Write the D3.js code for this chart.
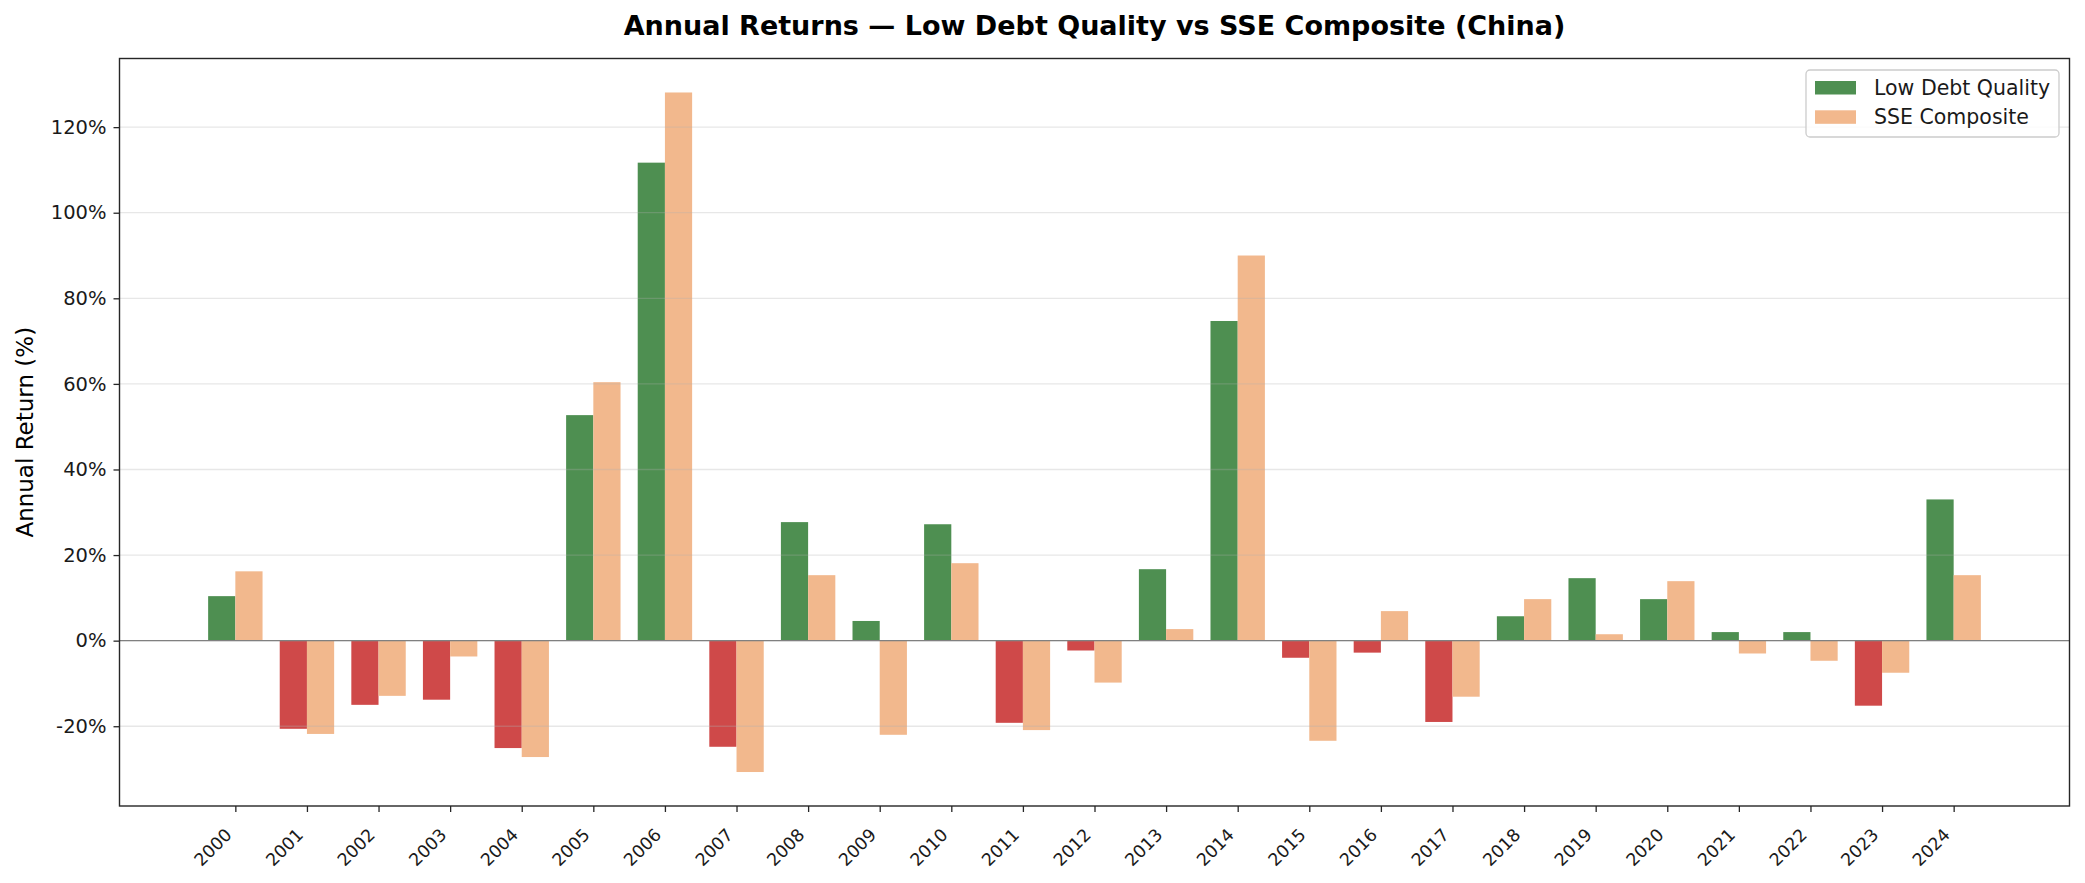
<!DOCTYPE html>
<html>
<head>
<meta charset="utf-8">
<script src="https://cdn.jsdelivr.net/npm/d3@7/dist/d3.min.js"></script>
<style>
  html, body { margin: 0; padding: 0; background: #ffffff; }
  svg { display: block; font-family: "DejaVu Sans", sans-serif; }
</style>
</head>
<body>
<svg id="chart" width="2085" height="883"></svg>
<script>
const years = [2000,2001,2002,2003,2004,2005,2006,2007,2008,2009,2010,2011,2012,2013,2014,2015,2016,2017,2018,2019,2020,2021,2022,2023,2024];
const lowDebtQuality = [10.4,-20.6,-15.0,-13.8,-25.1,52.7,111.7,-24.8,27.7,4.6,27.2,-19.2,-2.3,16.7,74.7,-4.0,-2.8,-19.0,5.7,14.6,9.7,2.0,2.0,-15.2,33.0];
const sseComposite = [16.2,-21.8,-12.9,-3.7,-27.2,60.4,128.1,-30.7,15.3,-22.0,18.1,-20.9,-9.8,2.7,90.0,-23.4,6.9,-13.1,9.7,1.5,13.9,-3.0,-4.7,-7.5,15.3];
const yTicks = [-20,0,20,40,60,80,100,120];
const seriesNames = ["Low Debt Quality", "SSE Composite"];

const colorPos = "#4e8f51", colorNeg = "#cf4949", colorSSE = "#f2b88d";

const mLeft = 119.5, mRight = 2069.5, mTop = 58.5, mBottom = 806;
const barW = 0.38;

const svg = d3.select("#chart");

const n = years.length;
const xPad = (n - 1 + 2 * barW) * 0.05;
const x = d3.scaleLinear().domain([-barW - xPad, n - 1 + barW + xPad]).range([mLeft, mRight]);
const allVals = lowDebtQuality.concat(sseComposite);
const yMin = d3.min(allVals), yMax = d3.max(allVals);
const yPad = (yMax - yMin) * 0.05;
const y = d3.scaleLinear().domain([yMin - yPad, yMax + yPad]).range([mBottom, mTop]);

// bars
const g = svg.append("g");
g.selectAll("rect.ldq").data(lowDebtQuality).join("rect")
  .attr("class","ldq")
  .attr("x", (d,i) => x(i - barW))
  .attr("width", x(barW) - x(0))
  .attr("y", d => y(Math.max(0,d)))
  .attr("height", d => Math.abs(y(d) - y(0)))
  .attr("fill", d => d >= 0 ? colorPos : colorNeg);
g.selectAll("rect.sse").data(sseComposite).join("rect")
  .attr("class","sse")
  .attr("x", (d,i) => x(i))
  .attr("width", x(barW) - x(0))
  .attr("y", d => y(Math.max(0,d)))
  .attr("height", d => Math.abs(y(d) - y(0)))
  .attr("fill", colorSSE);

// gridlines (above bars, translucent)
svg.append("g").selectAll("line").data(yTicks).join("line")
  .attr("x1", mLeft).attr("x2", mRight)
  .attr("y1", d => y(d)).attr("y2", d => y(d))
  .attr("stroke", "#b0b0b0").attr("stroke-opacity", 0.3).attr("stroke-width", 1.3);

// zero line
svg.append("line")
  .attr("x1", mLeft).attr("x2", mRight)
  .attr("y1", y(0)).attr("y2", y(0))
  .attr("stroke", "#808080").attr("stroke-width", 1.3);

// axes
const yAxis = d3.axisLeft(y).tickValues(yTicks).tickFormat(d => d + "%").tickSize(6).tickPadding(7);
const yg = svg.append("g").attr("transform", `translate(${mLeft},0)`).call(yAxis);
yg.select(".domain").remove();
yg.selectAll(".tick line").attr("stroke", "#262626").attr("stroke-width", 1.3);
yg.selectAll(".tick text").attr("font-size", "19.5px").attr("fill", "#1a1a1a").attr("font-family", "DejaVu Sans");

const xAxis = d3.axisBottom(x).tickValues(d3.range(n)).tickFormat(i => years[i]).tickSize(6);
const xg = svg.append("g").attr("transform", `translate(0,${mBottom})`).call(xAxis);
xg.select(".domain").remove();
xg.selectAll(".tick line").attr("stroke", "#262626").attr("stroke-width", 1.3);
xg.selectAll(".tick text")
  .attr("font-size", "17.4px").attr("fill", "#1a1a1a").attr("font-family", "DejaVu Sans")
  .attr("text-anchor", "end")
  .attr("dy", null)
  .attr("y", null)
  .attr("transform", "translate(-3,30) rotate(-45)");

// spines
svg.append("rect")
  .attr("x", mLeft).attr("y", mTop).attr("width", mRight - mLeft).attr("height", mBottom - mTop)
  .attr("fill", "none").attr("stroke", "#262626").attr("stroke-width", 1.4);

// title
svg.append("text")
  .attr("x", (mLeft + mRight) / 2).attr("y", 35)
  .attr("text-anchor", "middle")
  .attr("font-size", "27px").attr("font-weight", "bold").attr("fill", "#000")
  .text("Annual Returns \u2014 Low Debt Quality vs SSE Composite (China)");

// y label
svg.append("text")
  .attr("transform", `translate(33,${(mTop + mBottom) / 2}) rotate(-90)`)
  .attr("text-anchor", "middle")
  .attr("font-size", "23px").attr("fill", "#000")
  .text("Annual Return (%)");

// legend
const lg = svg.append("g");
lg.append("rect")
  .attr("x", 1806).attr("y", 70).attr("width", 253).attr("height", 67)
  .attr("rx", 4).attr("ry", 4)
  .attr("fill", "#ffffff").attr("fill-opacity", 0.8)
  .attr("stroke", "#cccccc").attr("stroke-width", 1.3);
const legColors = [colorPos, colorSSE];
seriesNames.forEach((name, i) => {
  lg.append("rect")
    .attr("x", 1815).attr("y", 81 + i * 29.3).attr("width", 41).attr("height", 13.5)
    .attr("fill", legColors[i]);
  lg.append("text")
    .attr("x", 1874).attr("y", 95 + i * 29.3)
    .attr("font-size", "20.5px").attr("fill", "#1a1a1a")
    .text(name);
});
</script>
</body>
</html>
